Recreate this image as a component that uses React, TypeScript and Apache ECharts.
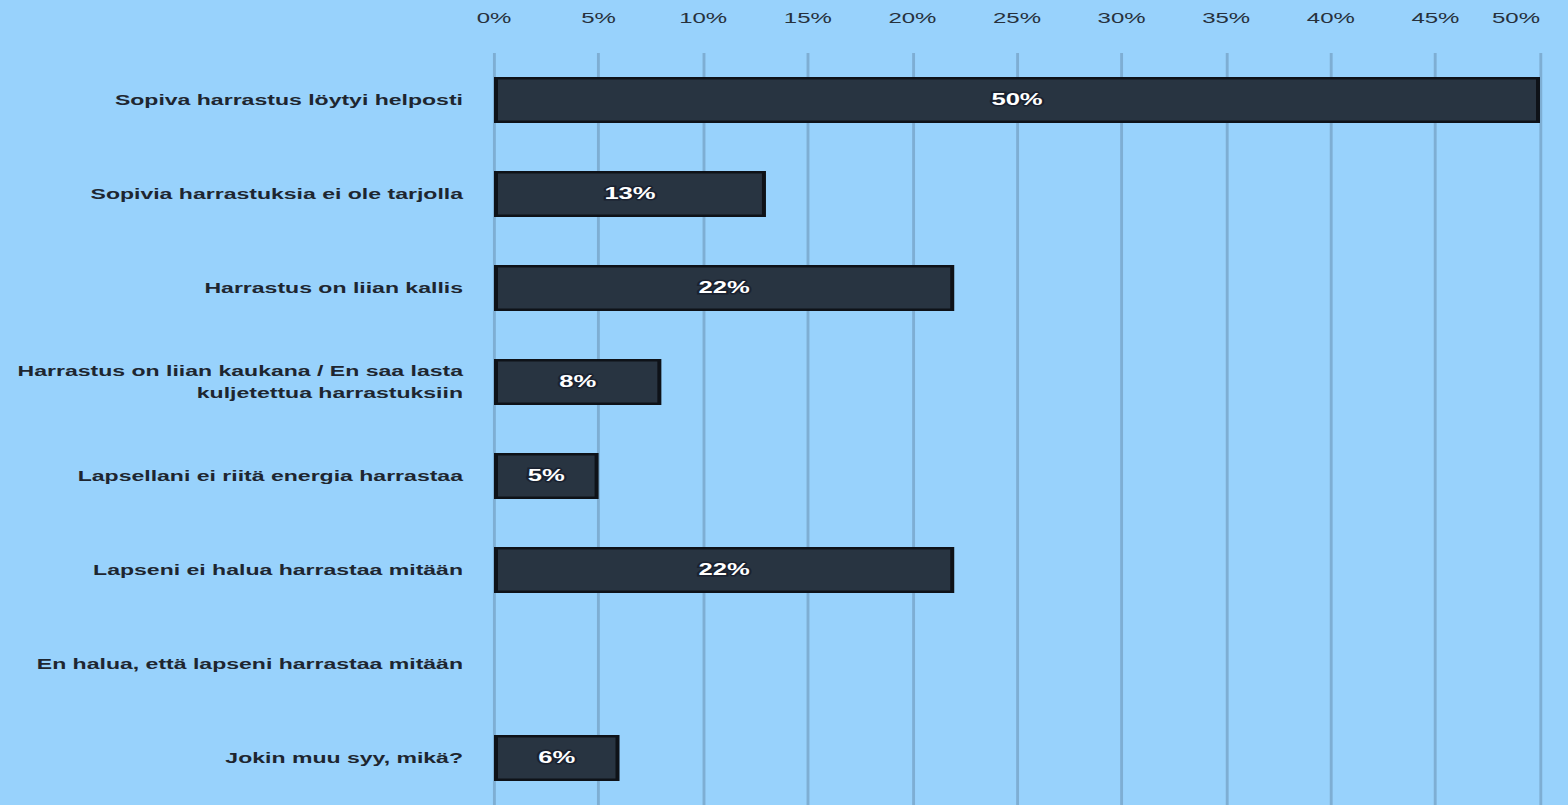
import React, { useEffect, useRef } from "react";
import * as echarts from "echarts";

const categories = [
  "Sopiva harrastus löytyi helposti",
  "Sopivia harrastuksia ei ole tarjolla",
  "Harrastus on liian kallis",
  "Harrastus on liian kaukana / En saa lasta\nkuljetettua harrastuksiin",
  "Lapsellani ei riitä energia harrastaa",
  "Lapseni ei halua harrastaa mitään",
  "En halua, että lapseni harrastaa mitään",
  "Jokin muu syy, mikä?",
];
const values: (number | null)[] = [50, 13, 22, 8, 5, 22, null, 6];
const tickMax = 50;
const tickStep = 5;

const STRETCH = 1.6;
const W = 1568 / STRETCH;

export default function App() {
  const ref = useRef<HTMLDivElement>(null);
  useEffect(() => {
    if (!ref.current) return;
    const chart = echarts.init(ref.current, undefined, { renderer: "svg" });
    const font = "Liberation Sans, Arial, sans-serif";
    chart.setOption({
      animation: false,
      backgroundColor: "#98d2fc",
      grid: { left: 494 / STRETCH, right: 28 / STRETCH, top: 53, height: 754 },
      xAxis: {
        type: "value",
        position: "top",
        min: 0,
        max: tickMax,
        interval: tickStep,
        axisLine: { show: false },
        axisTick: { show: false },
        axisLabel: {
          formatter: "{value}%",
          color: "#27313c",
          fontFamily: font,
          fontSize: 15,
          margin: 28,
          alignMaxLabel: "right",
        },
        splitLine: { show: true, lineStyle: { color: "#7eaed3", width: 1.8 } },
      },
      yAxis: {
        type: "category",
        inverse: true,
        data: categories,
        axisLine: { show: false },
        axisTick: { show: false },
        axisLabel: {
          color: "#1e2630",
          fontFamily: font,
          fontWeight: "bold",
          fontSize: 14.4,
          margin: 31 / STRETCH,
          lineHeight: 22,
          align: "right",
        },
      },
      series: [
        {
          type: "bar",
          data: values,
          barWidth: 46,
          itemStyle: { color: "#283441", borderColor: "#0e1218", borderWidth: 2.5 },
          label: {
            show: true,
            position: "inside",
            formatter: (p: any) => (p.value == null ? "" : p.value + "%"),
            color: "#ffffff",
            fontWeight: "bold",
            fontSize: 16,
            fontFamily: font,
            textBorderColor: "#1a2230",
            textBorderWidth: 3,
          },
        },
      ],
    });
    return () => chart.dispose();
  }, []);
  return (
    <div
      style={{
        position: "fixed",
        left: 0,
        top: 0,
        width: 1568,
        height: 805,
        overflow: "hidden",
        background: "#98d2fc",
      }}
    >
      <div
        ref={ref}
        style={{
          width: W,
          height: 805,
          transform: `scaleX(${STRETCH})`,
          transformOrigin: "0 0",
        }}
      />
    </div>
  );
}
